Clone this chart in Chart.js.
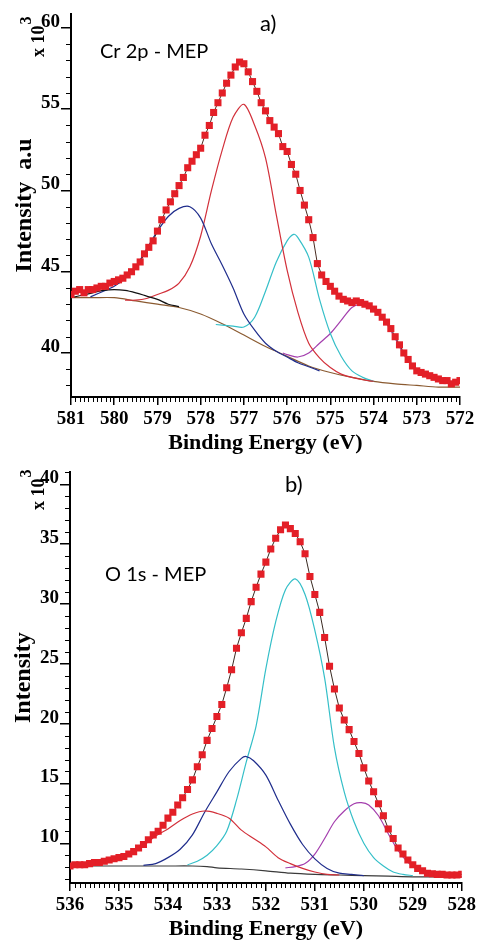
<!DOCTYPE html>
<html>
<head>
<meta charset="utf-8">
<title>XPS Cr 2p / O 1s - MEP</title>
<script src="https://cdn.jsdelivr.net/npm/chart.js@4.4.1/dist/chart.umd.min.js"></script>
<style>
  html, body { margin: 0; padding: 0; background: #fff; }
  body { width: 479px; height: 943px; position: relative; overflow: hidden; }
  .panel { position: absolute; left: 0; width: 479px; }
  #panelA { top: 0; height: 460px; }
  #panelB { top: 460px; height: 483px; }
</style>
</head>
<body>
<div class="panel" id="panelA"><canvas id="chartA"></canvas></div>
<div class="panel" id="panelB"><canvas id="chartB"></canvas></div>
<script>
// ---- a) Cr 2p ----
const crEnergy = [
  581.0, 580.9, 580.8, 580.7, 580.6, 580.5, 580.4, 580.3, 580.2, 580.1,
  580.0, 579.9, 579.8, 579.7, 579.6, 579.5, 579.4, 579.3, 579.2, 579.1,
  579.0, 578.9, 578.8, 578.7, 578.6, 578.5, 578.4, 578.3, 578.2, 578.1,
  578.0, 577.9, 577.8, 577.7, 577.6, 577.5, 577.4, 577.3, 577.2, 577.1,
  577.0, 576.9, 576.8, 576.7, 576.6, 576.5, 576.4, 576.3, 576.2, 576.1,
  576.0, 575.9, 575.8, 575.7, 575.6, 575.5, 575.4, 575.3, 575.2, 575.1,
  575.0, 574.9, 574.8, 574.7, 574.6, 574.5, 574.4, 574.3, 574.2, 574.1,
  574.0, 573.9, 573.8, 573.7, 573.6, 573.5, 573.4, 573.3, 573.2, 573.1,
  573.0, 572.9, 572.8, 572.7, 572.6, 572.5, 572.4, 572.3, 572.2, 572.1,
  572.0
];
const crCounts = [
  43.6, 43.8, 43.9, 43.7, 43.9, 43.9, 44.0, 44.1, 44.1, 44.3,
  44.4, 44.5, 44.6, 44.8, 45.0, 45.3, 45.6, 46.1, 46.5, 46.9,
  47.5, 48.2, 48.8, 49.3, 49.8, 50.3, 50.8, 51.4, 51.8, 52.2,
  52.6, 53.4, 54.0, 54.8, 55.4, 56.0, 56.6, 57.1, 57.6, 57.9,
  57.8, 57.3, 56.7, 56.1, 55.4, 54.9, 54.3, 53.9, 53.5, 52.7,
  52.4, 51.6, 51.0, 50.0, 49.1, 48.2, 47.1, 45.5, 44.8, 44.4,
  44.1, 43.8, 43.5, 43.3, 43.2, 43.1, 43.2, 43.1, 43.0, 42.9,
  42.7, 42.5, 42.2, 41.9, 41.5, 41.0, 40.5, 40.0, 39.6, 39.2,
  38.9, 38.8, 38.7, 38.6, 38.5, 38.4, 38.3, 38.3, 38.1, 38.2,
  38.3
];
// fitted components, [binding energy, intensity]
const crBackground = [
  [581, 43.4], [580.5, 43.4], [580, 43.4], [579.5, 43.2], [579, 43.0], [578.5, 42.8],
  [578, 42.4], [577.5, 41.8], [577, 41.1], [576.5, 40.4], [576, 39.8], [575.5, 39.2],
  [575, 38.8], [574.5, 38.5], [574, 38.25], [573.5, 38.1], [573, 38.0], [572.5, 37.9], [572, 37.9]
];
const crPeak1 = [
  [581, 43.4], [580.75, 43.55], [580.5, 43.7], [580.25, 43.85], [580, 43.9], [579.75, 43.85],
  [579.5, 43.7], [579.25, 43.5], [579, 43.3], [578.75, 43.0], [578.5, 42.85]
];
const crPeak2 = [
  [580.55, 43.45], [580.25, 43.8], [580, 44.1], [579.75, 44.6], [579.5, 45.3], [579.25, 46.4],
  [579, 47.5], [578.75, 48.4], [578.5, 48.9], [578.25, 49.0], [578, 48.3], [577.75, 46.7],
  [577.5, 45.4], [577.25, 44.0], [577, 42.4], [576.75, 41.4], [576.5, 40.6], [576.25, 40.1],
  [576, 39.75], [575.75, 39.4], [575.5, 39.15], [575.25, 38.9]
];
const crPeak3 = [
  [579.75, 43.25], [579.5, 43.25], [579.25, 43.35], [579, 43.6], [578.75, 43.85], [578.5, 44.3],
  [578.25, 45.3], [578, 47.2], [577.75, 50.0], [577.5, 52.5], [577.25, 54.5], [577, 55.3],
  [576.75, 54.0], [576.5, 52.0], [576.25, 48.5], [576, 45.1], [575.75, 42.5], [575.5, 40.6],
  [575.25, 39.7], [575, 39.1], [574.75, 38.7], [574.5, 38.5], [574.25, 38.35], [574, 38.25]
];
const crPeak4 = [
  [577.65, 41.75], [577.25, 41.65], [577, 41.6], [576.75, 42.2], [576.5, 43.8], [576.25, 45.6],
  [576, 46.9], [575.85, 47.3], [575.75, 47.1], [575.5, 45.9], [575.25, 43.3], [575, 41.2],
  [574.75, 39.8], [574.5, 38.9], [574.25, 38.5], [574, 38.25]
];
const crPeak5 = [
  [576.1, 40.0], [576, 39.9], [575.75, 39.75], [575.5, 40.0], [575.25, 40.6], [575, 41.2],
  [574.75, 42.0], [574.5, 42.8], [574.3, 42.95], [574, 42.6], [573.75, 42.0], [573.5, 40.9],
  [573.25, 39.7], [573, 39.0], [572.75, 38.6], [572.5, 38.35], [572.25, 38.25], [572, 38.2]
];
const crTicksX = [581, 580, 579, 578, 577, 576, 575, 574, 573, 572];
const crTicksY = [40, 45, 50, 55, 60];

// ---- b) O 1s ----
const oEnergy = [
  536.0, 535.9, 535.8, 535.7, 535.6, 535.5, 535.4, 535.3, 535.2, 535.1,
  535.0, 534.9, 534.8, 534.7, 534.6, 534.5, 534.4, 534.3, 534.2, 534.1,
  534.0, 533.9, 533.8, 533.7, 533.6, 533.5, 533.4, 533.3, 533.2, 533.1,
  533.0, 532.9, 532.8, 532.7, 532.6, 532.5, 532.4, 532.3, 532.2, 532.1,
  532.0, 531.9, 531.8, 531.7, 531.6, 531.5, 531.4, 531.3, 531.2, 531.1,
  531.0, 530.9, 530.8, 530.7, 530.6, 530.5, 530.4, 530.3, 530.2, 530.1,
  530.0, 529.9, 529.8, 529.7, 529.6, 529.5, 529.4, 529.3, 529.2, 529.1,
  529.0, 528.9, 528.8, 528.7, 528.6, 528.5, 528.4, 528.3, 528.2, 528.1,
  528.0
];
const oCounts = [
  8.1, 8.2, 8.2, 8.2, 8.3, 8.4, 8.4, 8.5, 8.6, 8.7,
  8.8, 8.9, 9.1, 9.3, 9.6, 9.9, 10.3, 10.7, 11.0, 11.5,
  12.1, 12.6, 13.2, 13.8, 14.5, 15.3, 16.4, 17.4, 18.6, 19.6,
  20.6, 21.6, 23.0, 24.5, 26.3, 27.6, 28.8, 30.2, 31.4, 32.5,
  33.5, 34.6, 35.5, 36.2, 36.6, 36.3, 35.9, 35.2, 34.2, 32.3,
  30.8, 29.3, 27.2, 24.8, 22.9, 21.3, 20.3, 19.5, 18.5, 17.5,
  16.3, 15.2, 14.3, 13.3, 12.3, 11.2, 10.4, 9.6, 9.1, 8.6,
  8.2, 7.9, 7.7, 7.5, 7.45, 7.4, 7.4, 7.35, 7.35, 7.35,
  7.4
];
const oBackground = [
  [536, 8.1], [535, 8.1], [534, 8.1], [533.5, 8.1], [533.2, 8.05], [533, 7.95], [532.5, 7.85],
  [532, 7.7], [531.5, 7.5], [531, 7.4], [530.5, 7.35], [530, 7.3], [529.5, 7.25], [529, 7.2],
  [528.5, 7.2], [528, 7.2]
];
const oPeak1 = [
  [536, 8.15], [535.5, 8.4], [535, 8.8], [534.75, 9.2], [534.5, 9.8], [534.25, 10.6], [534, 11.2],
  [533.75, 11.9], [533.5, 12.45], [533.25, 12.7], [533, 12.5], [532.75, 12.1], [532.5, 11.1],
  [532.25, 10.4], [532, 9.7], [531.75, 8.8], [531.5, 8.3], [531.25, 7.9], [531, 7.6],
  [530.75, 7.4], [530.5, 7.35]
];
const oPeak2 = [
  [534.5, 8.15], [534.25, 8.3], [534, 8.8], [533.75, 9.5], [533.5, 10.7], [533.25, 12.6],
  [533, 14.3], [532.75, 16.0], [532.5, 17.1], [532.4, 17.25], [532.25, 16.9], [532, 15.7],
  [531.75, 13.6], [531.5, 11.6], [531.25, 9.9], [531, 8.7], [530.75, 7.9], [530.5, 7.5],
  [530.25, 7.4], [530, 7.3]
];
const oPeak3 = [
  [533.6, 8.2], [533.4, 8.5], [533.2, 9.0], [533, 9.8], [532.8, 11.0], [532.6, 13.6],
  [532.4, 16.8], [532.2, 19.8], [532, 24.6], [531.8, 28.5], [531.6, 31.2], [531.4, 32.1],
  [531.2, 30.8], [531, 27.8], [530.8, 23.8], [530.6, 18.0], [530.4, 14.3], [530.2, 11.8],
  [530, 10.0], [529.8, 8.8], [529.6, 8.1], [529.4, 7.6], [529.2, 7.4], [529, 7.3]
];
const oPeak4 = [
  [531.6, 7.95], [531.4, 8.05], [531.2, 8.3], [531, 9.1], [530.8, 10.4], [530.6, 11.8],
  [530.4, 12.7], [530.2, 13.3], [530.05, 13.4], [529.9, 13.2], [529.7, 12.3], [529.5, 10.8],
  [529.3, 9.4], [529.1, 8.4], [528.9, 7.8], [528.7, 7.5], [528.5, 7.3]
];
const oTicksX = [536, 535, 534, 533, 532, 531, 530, 529, 528];
const oTicksY = [10, 15, 20, 25, 30, 35, 40];

const SERIF = '"Liberation Serif", "Times New Roman", serif';
const SANS = 'Lato, "Open Sans", sans-serif';
const RED_PT = '#e31f27';

function xy(xs, ys) { return xs.map((x, i) => ({ x: x, y: ys[i] })); }
function pairs(list) { return list.map(p => ({ x: p[0], y: p[1] })); }

function curve(list, color, order) {
  return {
    data: pairs(list), showLine: true, borderColor: color, borderWidth: 1.2,
    pointRadius: 0, tension: 0.3, order: order
  };
}

// small ticks between the labelled ones
const minorTicks = {
  id: 'minorTicks',
  afterDraw(chart, args, o) {
    const { ctx } = chart;
    const sx = chart.scales.x, sy = chart.scales.y;
    ctx.save();
    ctx.strokeStyle = '#000';
    ctx.lineWidth = 1;
    ctx.beginPath();
    for (let k = Math.ceil(sx.min / o.stepX - 1e-6); k <= Math.floor(sx.max / o.stepX + 1e-6); k++) {
      const v = k * o.stepX;
      if (Math.abs(v / o.majorX - Math.round(v / o.majorX)) < 1e-6) continue;
      const px = Math.round(sx.getPixelForValue(v)) + 0.5;
      ctx.moveTo(px, sx.top);
      ctx.lineTo(px, sx.top + o.len);
    }
    for (let k = Math.ceil(sy.min / o.stepY - 1e-6); k <= Math.floor(sy.max / o.stepY + 1e-6); k++) {
      const v = k * o.stepY;
      if (Math.abs(v / o.majorY - Math.round(v / o.majorY)) < 1e-6) continue;
      const py = Math.round(sy.getPixelForValue(v)) + 0.5;
      ctx.moveTo(sy.right, py);
      ctx.lineTo(sy.right - o.len, py);
    }
    ctx.stroke();
    ctx.restore();
  }
};

// panel caption, panel letter and the "x 10^3" multiplier
const panelText = {
  id: 'panelText',
  afterDraw(chart, args, o) {
    const { ctx } = chart;
    ctx.save();
    ctx.fillStyle = '#000';
    ctx.textBaseline = 'alphabetic';
    ctx.textAlign = 'left';
    ctx.font = '20px ' + SANS;
    ctx.fillText(o.caption, o.captionX, o.captionY);
    ctx.font = '22px ' + SANS;
    ctx.fillText(o.letter, o.letterX, o.letterY);
    ctx.translate(o.expoX, o.expoY);
    ctx.rotate(-Math.PI / 2);
    ctx.font = 'bold 18px ' + SERIF;
    ctx.fillText('x 10', 0, 0);
    const w = ctx.measureText('x 10').width;
    ctx.font = 'bold 16px ' + SERIF;
    ctx.fillText('3', w + 1, -13);
    ctx.restore();
  }
};

function makeChart(id, cfg) {
  const tickFont = { family: SERIF, size: 19, weight: 'bold' };
  const titleFont = { family: SERIF, size: 22, weight: 'bold' };
  return new Chart(document.getElementById(id), {
    type: 'scatter',
    data: { datasets: cfg.datasets },
    plugins: [minorTicks, panelText],
    options: {
      responsive: true,
      maintainAspectRatio: false,
      animation: false,
      layout: { padding: { top: cfg.padTop, right: cfg.padRight, left: 0, bottom: 0 } },
      plugins: {
        legend: { display: false },
        tooltip: { enabled: false },
        minorTicks: { stepX: 0.1, majorX: 1, stepY: 1, majorY: 5, len: 5 },
        panelText: cfg.text
      },
      scales: {
        x: {
          type: 'linear', reverse: true, min: cfg.xMin, max: cfg.xMax,
          afterBuildTicks: s => { s.ticks = cfg.ticksX.map(v => ({ value: v })); },
          afterFit: s => { s.height = cfg.xHeight; },
          grid: { drawOnChartArea: false, drawTicks: true, tickLength: 8, color: '#000', lineWidth: 1.5 },
          border: { display: true, color: '#000', width: 2 },
          ticks: { font: tickFont, color: '#000', padding: 3, maxRotation: 0, autoSkip: false, callback: v => String(v) },
          title: { display: true, text: 'Binding Energy (eV)', font: titleFont, color: '#000', padding: { top: 0, bottom: cfg.xTitlePad } }
        },
        y: {
          min: cfg.yMin, max: cfg.yMax,
          afterBuildTicks: s => { s.ticks = cfg.ticksY.map(v => ({ value: v })); },
          afterFit: s => { s.width = cfg.yWidth; },
          grid: { drawOnChartArea: false, drawTicks: true, tickLength: 10, color: '#000', lineWidth: 1.5 },
          border: { display: true, color: '#000', width: 2 },
          ticks: { font: tickFont, color: '#000', padding: 1, labelOffset: -6, callback: v => String(v) },
          title: { display: true, text: cfg.yTitle, font: { family: SERIF, size: 24, weight: 'bold' }, color: '#000', padding: { top: cfg.yTitlePad, bottom: 0 } }
        }
      }
    }
  });
}

makeChart('chartA', {
  xMin: 572, xMax: 581, yMin: 37.29, yMax: 60.86,
  ticksX: crTicksX, ticksY: crTicksY,
  padTop: 14, padRight: 19, xHeight: 63, yWidth: 71,
  xTitlePad: 3, yTitlePad: 10, yTitle: 'Intensity  a.u',
  text: { caption: 'Cr 2p - MEP', captionX: 100, captionY: 58, letter: 'a)', letterX: 260, letterY: 31, expoX: 44, expoY: 57 },
  datasets: [
    // measured points on top, fitted envelope just beneath them
    { data: xy(crEnergy, crCounts), showLine: false, pointStyle: 'rect', pointRadius: 5,
      pointBackgroundColor: RED_PT, pointBorderColor: RED_PT, pointBorderWidth: 0, order: 0 },
    { data: xy(crEnergy, crCounts), showLine: true, borderColor: '#4a2c22', borderWidth: 1, pointRadius: 0, order: 1 },
    curve(crPeak1, '#111111', 2),
    curve(crPeak2, '#1f2d8c', 3),
    curve(crPeak3, '#d2303a', 4),
    curve(crPeak4, '#35bfc8', 5),
    curve(crPeak5, '#a43fae', 6),
    curve(crBackground, '#8a5a30', 7)
  ]
});

makeChart('chartB', {
  xMin: 528, xMax: 536, yMin: 6.68, yMax: 41.0,
  ticksX: oTicksX, ticksY: oTicksY,
  padTop: 9, padRight: 12, xHeight: 60, yWidth: 70,
  xTitlePad: 0, yTitlePad: 9, yTitle: 'Intensity',
  text: { caption: 'O 1s - MEP', captionX: 105, captionY: 121, letter: 'b)', letterX: 285, letterY: 32, expoX: 44, expoY: 50 },
  datasets: [
    { data: xy(oEnergy, oCounts), showLine: false, pointStyle: 'rect', pointRadius: 5,
      pointBackgroundColor: RED_PT, pointBorderColor: RED_PT, pointBorderWidth: 0, order: 0 },
    { data: xy(oEnergy, oCounts), showLine: true, borderColor: '#3a2a22', borderWidth: 1, pointRadius: 0, order: 1 },
    curve(oPeak1, '#d2303a', 2),
    curve(oPeak2, '#1f2d8c', 3),
    curve(oPeak3, '#35bfc8', 4),
    curve(oPeak4, '#a43fae', 5),
    curve(oBackground, '#3a3a3a', 6)
  ]
});
</script>
</body>
</html>
